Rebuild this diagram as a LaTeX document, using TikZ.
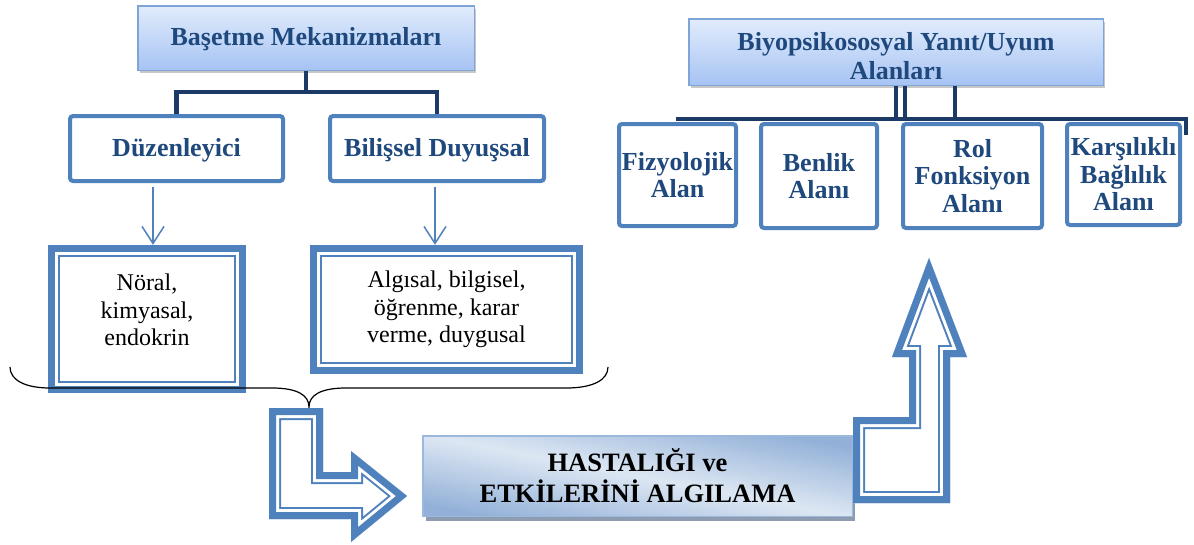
\documentclass[tikz,border=0pt]{standalone}
\usepackage{fontspec}
\setmainfont{Liberation Serif}
\usetikzlibrary{arrows.meta,shadows,calc}
\definecolor{bl}{HTML}{4F81BD}
\definecolor{navy}{HTML}{1F497D}
\definecolor{connc}{HTML}{1B3A66}
\definecolor{hdtop}{HTML}{E1ECFC}
\definecolor{hdbot}{HTML}{A6C3F3}
\definecolor{hdline}{HTML}{7FA5D8}
\definecolor{hsdark}{HTML}{93B1D8}
\definecolor{hslight}{HTML}{DDE7F3}
\definecolor{hsline}{HTML}{9BB9DD}
\definecolor{shd}{HTML}{8D9CB0}
\newcommand\dblframe[1]{%
  \draw[bl, line width=7pt] ([shift={(3.5,3.5)}]#1.north west) rectangle ([shift={(-3.5,-3.5)}]#1.south east);
  \draw[bl, line width=2pt] ([shift={(11,11)}]#1.north west) rectangle ([shift={(-11,-11)}]#1.south east);}
\begin{document}
\begin{tikzpicture}[x=1pt,y=-1pt,
  hdr/.style={draw=hdline, line width=1.5pt, top color=hdtop, bottom color=hdbot, text=navy,
    font=\bfseries\fontsize{26}{29}\selectfont, align=center, inner sep=0pt,
    drop shadow={shadow xshift=2pt, shadow yshift=-3pt, fill=black, opacity=0.22}},
  hdtext/.style={text=navy, font=\bfseries\fontsize{26}{29}\selectfont, align=center, inner sep=0pt},
  chbox/.style={draw=bl, line width=4pt, fill=white, rounded corners=3pt, text=navy,
    font=\bfseries\fontsize{26}{27.5}\selectfont, align=center, inner sep=0pt},
  frbox/.style={inner sep=0pt, fill=white, font=\fontsize{24}{27.5}\selectfont, align=center},
  hsbox/.style={draw=hsline, line width=1.5pt, top color=hsdark, bottom color=hsdark, middle color=hslight,
    shading angle=-11, font=\bfseries\fontsize{26.5}{31}\selectfont, align=center, inner sep=0pt,
    drop shadow={shadow xshift=3pt, shadow yshift=-5pt, fill=shd, opacity=1}},
  conn/.style={draw=connc, line width=4.5pt},
  arr/.style={draw=bl, line width=1.5pt, -{Straight Barb[length=17pt,width=22pt]}},
  brace/.style={draw=black, line width=1.2pt},
  arrowA/.style={insert path={(269,408) -- (323,408) -- (323,472) -- (351,472) -- (351,451) -- (407,496) -- (351,542) -- (351,519) -- (269,519) -- cycle}},
  arrowB/.style={insert path={(853,503) -- (950,503) -- (950,357) -- (967,357) -- (929,258) -- (892,357) -- (909,357) -- (909,417) -- (853,417) -- cycle}},
]
\useasboundingbox (0,0) rectangle (1194,544);

% --- left hierarchy
\node[hdr, minimum width=336.5pt, minimum height=64.5pt] (bm) at (306,38) {};
\node[hdtext] (bmt) at (306,39.5) {Başetme Mekanizmaları};
\node[chbox, minimum width=213pt, minimum height=65pt] (dz) at (176.5,148.5) {};
\node[hdtext] (dzt) at (176.5,150) {Düzenleyici};
\node[chbox, minimum width=214pt, minimum height=65pt] (bd) at (437,148.5) {};
\node[hdtext] (bdt) at (437,150) {Bilişsel Duyuşsal};
\draw[conn] (bm.south) -- ++(0,21) -| (dz.north);
\draw[conn] (bm.south) ++(0,21) -| (bd.north);

\node[frbox, minimum width=198pt, minimum height=148pt] (nr) at (147,319) {};
\node[inner sep=0pt, font=\fontsize{24}{27.5}\selectfont, align=center] (nrt) at (147,310) {Nöral,\\kimyasal,\\endokrin};
\node[frbox, minimum width=273pt, minimum height=129pt] (al) at (446.5,309.5) {Algısal, bilgisel,\\öğrenme, karar\\verme, duygusal};
\dblframe{nr}
\dblframe{al}

\coordinate (a1) at ([xshift=-23.5pt,yshift=-4pt]dz.south);
\coordinate (a2) at ([xshift=-2pt,yshift=-4pt]bd.south);
\draw[arr] (a1) -- (a1 |- nr.north);
\draw[arr] (a2) -- (a2 |- al.north);

% --- brace
\draw[brace] (10,367) .. controls (10,380) and (25,388) .. (50,388) -- (272,388)
  .. controls (297,388) and (309,395) .. (309,407)
  .. controls (309,395) and (321,388) .. (346,388) -- (566,388)
  .. controls (593,388) and (608,380) .. (608,367);

% --- block arrow down-right
\begin{scope}
  \clip[arrowA];
  \fill[white, arrowA];
  \draw[bl, line width=24pt, arrowA];
  \draw[white, line width=20pt, arrowA];
  \draw[bl, line width=14pt, arrowA];
\end{scope}

% --- central box
\node[hsbox, minimum width=429.5pt, minimum height=80.5pt] (hs) at (637.5,476) {HASTALIĞI ve\\ETKİLERİNİ ALGILAMA};

% --- block arrow up
\begin{scope}
  \clip[arrowB];
  \fill[white, arrowB];
  \draw[bl, line width=24pt, arrowB];
  \draw[white, line width=20pt, arrowB];
  \draw[bl, line width=14pt, arrowB];
\end{scope}

% --- right hierarchy
\node[hdr, minimum width=414.5pt, minimum height=66.5pt] (by) at (896,52) {};
\node[hdtext] (byt) at (896,56) {Biyopsikososyal Yanıt/Uyum\\Alanları};
\coordinate (hl) at (676,119);
\coordinate (hr) at (1186,119);
\coordinate (he) at (1186,135);
\draw[conn] (by.south) -- ++(0,34);
\draw[conn] ([xshift=9pt]by.south) -- ++(0,34);
\draw[conn] ([xshift=59pt]by.south) -- ++(0,34);
\draw[conn] (hl) -- (hr) -- (he);

\node[chbox, minimum width=117pt, minimum height=102pt] (fz) at (677.5,175) {Fizyolojik\\Alan};
\node[chbox, minimum width=116pt, minimum height=104pt] (bn) at (819,176) {Benlik\\Alanı};
\node[chbox, minimum width=139pt, minimum height=104pt] (rl) at (972.5,176) {Rol\\Fonksiyon\\Alanı};
\node[chbox, minimum width=113pt, minimum height=101pt] (kb) at (1123.5,174.5) {Karşılıklı\\Bağlılık\\Alanı};
\end{tikzpicture}
\end{document}
